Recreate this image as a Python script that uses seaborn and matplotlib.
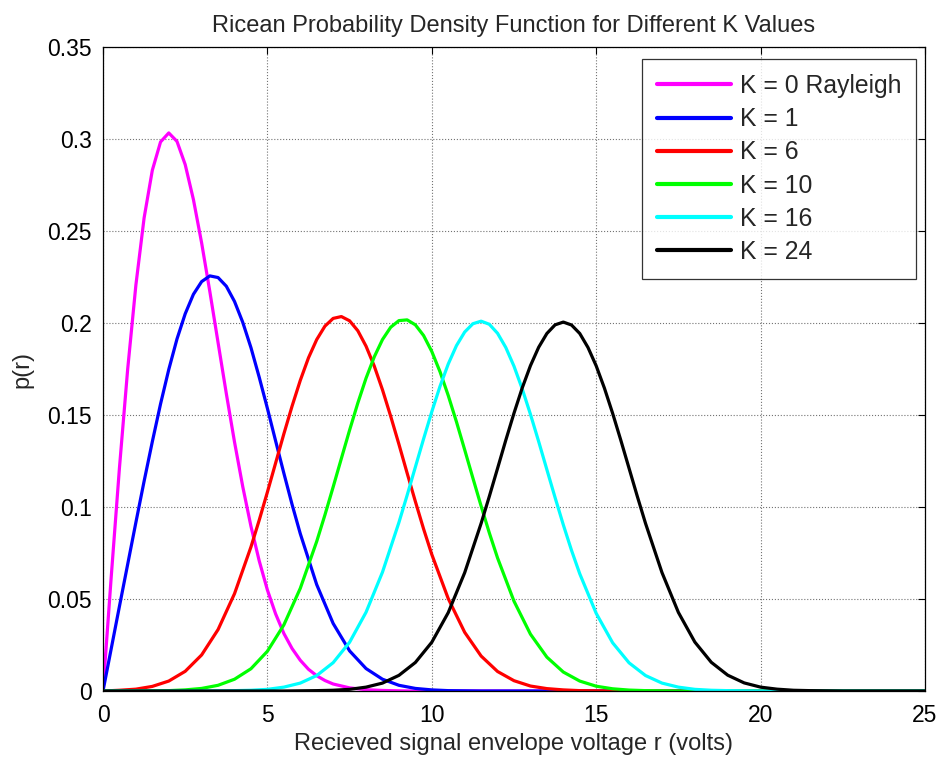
import numpy as np
import pandas as pd
import matplotlib
matplotlib.use("Agg")
import matplotlib.pyplot as plt
import seaborn as sns

# Common sample positions (volts)
r = [0, 0.5, 1, 1.5, 2, 2.5, 3, 3.5, 4, 4.5, 5, 5.5, 6, 6.5, 7, 7.5, 8, 8.5, 9, 9.5,
     10, 10.5, 11, 11.5, 12, 12.5, 13, 13.5, 14, 14.5, 15, 15.5, 16, 16.5, 17, 17.5,
     18, 18.5, 19, 19.5, 20, 20.5, 21, 21.5, 22, 22.5, 23, 23.5, 24, 24.5, 25]

p_k0 = [0, 0.1212, 0.2206, 0.2830, 0.3033, 0.2861, 0.2435, 0.1893, 0.1353, 0.0895,
        0.0549, 0.0313, 0.0167, 0.0083, 0.0038, 0.0017, 0.0007, 0.0003, 0.0001] + [0] * 32
p_k1 = [0, 0.0460, 0.0916, 0.1355, 0.1747, 0.2050, 0.2225, 0.2247, 0.2117, 0.1866,
        0.1536, 0.1184, 0.0855, 0.0578, 0.0367, 0.0218, 0.0122, 0.0064, 0.0031, 0.0014,
        0.0006, 0.0002, 0.0001] + [0] * 28
p_k6 = [0, 0.0004, 0.0010, 0.0025, 0.0054, 0.0107, 0.0196, 0.0334, 0.0529, 0.0783,
        0.1081, 0.1397, 0.1688, 0.1910, 0.2025, 0.2012, 0.1874, 0.1637, 0.1341, 0.1030,
        0.0742, 0.0502, 0.0319, 0.0190, 0.0106, 0.0056, 0.0027, 0.0013, 0.0006, 0.0002,
        0.0001] + [0] * 20
p_k10 = [0, 0, 0, 0.0001, 0.0002, 0.0006, 0.0014, 0.0031, 0.0064, 0.0121,
         0.0216, 0.0359, 0.0558, 0.0813, 0.1109, 0.1418, 0.1700, 0.1910, 0.2013, 0.1990,
         0.1845, 0.1606, 0.1311, 0.1005, 0.0723, 0.0488, 0.0309, 0.0184, 0.0103, 0.0054,
         0.0026, 0.0012, 0.0005, 0.0002, 0.0001] + [0] * 16
p_k16 = [0, 0, 0, 0, 0, 0, 0, 0.0001, 0.0002, 0.0004,
         0.0009, 0.0021, 0.0043, 0.0084, 0.0154, 0.0265, 0.0428, 0.0646, 0.0916, 0.1217,
         0.1518, 0.1777, 0.1951, 0.2010, 0.1944, 0.1765, 0.1504, 0.1203, 0.0903, 0.0637,
         0.0422, 0.0262, 0.0153, 0.0084, 0.0043, 0.0021, 0.0009, 0.0004, 0.0002, 0.0001] + [0] * 11
p_k24 = [0, 0, 0, 0, 0, 0, 0, 0, 0, 0, 0, 0,
         0.0001, 0.0002, 0.0004, 0.0009, 0.0021, 0.0043, 0.0085, 0.0155,
         0.0265, 0.0426, 0.0643, 0.0911, 0.1210, 0.1510, 0.1768, 0.1943, 0.2005, 0.1943,
         0.1767, 0.1509, 0.1210, 0.0911, 0.0644, 0.0427, 0.0266, 0.0156, 0.0086, 0.0044,
         0.0021, 0.0010, 0.0004, 0.0002, 0.0001] + [0] * 6

# Additional readings taken between the main samples, around each hump
r_k0_extra = [0.25, 0.75, 1.25, 1.75, 2.25, 2.75, 3.25, 3.75, 4.25, 4.75, 5.25, 5.75, 6.25, 6.75]
p_k0_extra = [0.0620, 0.1748, 0.2571, 0.2984, 0.2987, 0.2671, 0.2170, 0.1617, 0.1111,
              0.0708, 0.0419, 0.0231, 0.0118, 0.0057]
r_k1_extra = [1.25, 1.75, 2.25, 2.75, 3.25, 3.75, 4.25, 4.75, 5.25, 5.75]
p_k1_extra = [0.1140, 0.1560, 0.1913, 0.2156, 0.2256, 0.2200, 0.2004, 0.1706, 0.1359, 0.1014]
r_k6_extra = [4.75, 5.25, 5.75, 6.25, 6.75, 7.25, 7.75, 8.25, 8.75, 9.25, 9.75]
p_k6_extra = [0.0928, 0.1239, 0.1548, 0.1811, 0.1983, 0.2035, 0.1958, 0.1766, 0.1493,
              0.1184, 0.0881]
r_k10_extra = [6.75, 7.25, 7.75, 8.25, 8.75, 9.25, 9.75, 10.25, 10.75, 11.25, 11.75]
p_k10_extra = [0.0957, 0.1264, 0.1565, 0.1816, 0.1977, 0.2017, 0.1932, 0.1735, 0.1463,
               0.1157, 0.0859]
r_k16_extra = [9.25, 9.75, 10.25, 10.75, 11.25, 11.75, 12.25, 12.75, 13.25, 13.75, 14.25]
p_k16_extra = [0.1064, 0.1370, 0.1656, 0.1877, 0.1996, 0.1993, 0.1867, 0.1642, 0.1356,
               0.1051, 0.0764]
r_k24_extra = [11.75, 12.25, 12.75, 13.25, 13.75, 14.25, 14.75, 15.25, 15.75, 16.25]
p_k24_extra = [0.1058, 0.1363, 0.1647, 0.1868, 0.1990, 0.1989, 0.1867, 0.1646, 0.1362, 0.1058]

labels = ["K = 0 Rayleigh", "K = 1", "K = 6", "K = 10", "K = 16", "K = 24"]
colors = ["#FF00FF", "#0000FF", "#FF0000", "#00FF00", "#00FFFF", "#000000"]
series = [(p_k0, r_k0_extra, p_k0_extra), (p_k1, r_k1_extra, p_k1_extra),
          (p_k6, r_k6_extra, p_k6_extra), (p_k10, r_k10_extra, p_k10_extra),
          (p_k16, r_k16_extra, p_k16_extra), (p_k24, r_k24_extra, p_k24_extra)]

xticks = [0, 5, 10, 15, 20, 25]
yticks = [0, 0.05, 0.1, 0.15, 0.2, 0.25, 0.3, 0.35]
yticklabels = ["0", "0.05", "0.1", "0.15", "0.2", "0.25", "0.3", "0.35"]

frames = []
for lab, (vals, rx, px) in zip(labels, series):
    assert len(vals) == len(r), (lab, len(vals))
    assert len(rx) == len(px), (lab, len(rx), len(px))
    frames.append(pd.DataFrame({"r": list(r) + list(rx), "p": list(vals) + list(px), "K": lab}))
df = pd.concat(frames, ignore_index=True)

sns.set_style("white")
plt.rcParams["font.family"] = ["Liberation Sans", "DejaVu Sans"]

fig = plt.figure(figsize=(9.42, 7.65), dpi=100)
ax = fig.add_axes([103 / 942, 1 - 691 / 765, (925 - 103) / 942, (691 - 47) / 765])

sns.lineplot(data=df, x="r", y="p", hue="K", hue_order=labels,
             palette=dict(zip(labels, colors)), linewidth=2.3, sort=True,
             estimator=None, ax=ax)

ax.set_xlim(0, 25)
ax.set_ylim(0, 0.35)
ax.set_xticks(xticks)
ax.set_xticklabels([str(t) for t in xticks])
ax.set_yticks(yticks)
ax.set_yticklabels(yticklabels)
ax.grid(True, color="0.45", linestyle=":", linewidth=0.8)
ax.tick_params(direction="in", top=True, right=True, length=5, width=0.8,
               labelsize=16.5, color="black", labelcolor="black")
ax.tick_params(axis="x", pad=9)
ax.tick_params(axis="y", pad=8)
for s in ax.spines.values():
    s.set_visible(True)
    s.set_color("black")
    s.set_linewidth(0.9)

ax.set_title("Ricean Probability Density Function for Different K Values",
             fontsize=17, pad=11)
ax.set_xlabel("Recieved signal envelope voltage r (volts)", fontsize=17, labelpad=5)
ax.set_ylabel("p(r)", fontsize=17, labelpad=10)

handles, labs = ax.get_legend_handles_labels()
leg = ax.legend(handles, labs, loc="upper right", bbox_to_anchor=(0.989, 0.981),
                borderaxespad=0, fontsize=17.8, frameon=True, fancybox=False,
                edgecolor="black", handlelength=3.0, handletextpad=0.33,
                labelspacing=0.37, borderpad=0.6)
leg.get_frame().set_linewidth(0.9)
for h in leg.get_lines():
    h.set_linewidth(3)

fig.savefig("out.png", dpi=100)
